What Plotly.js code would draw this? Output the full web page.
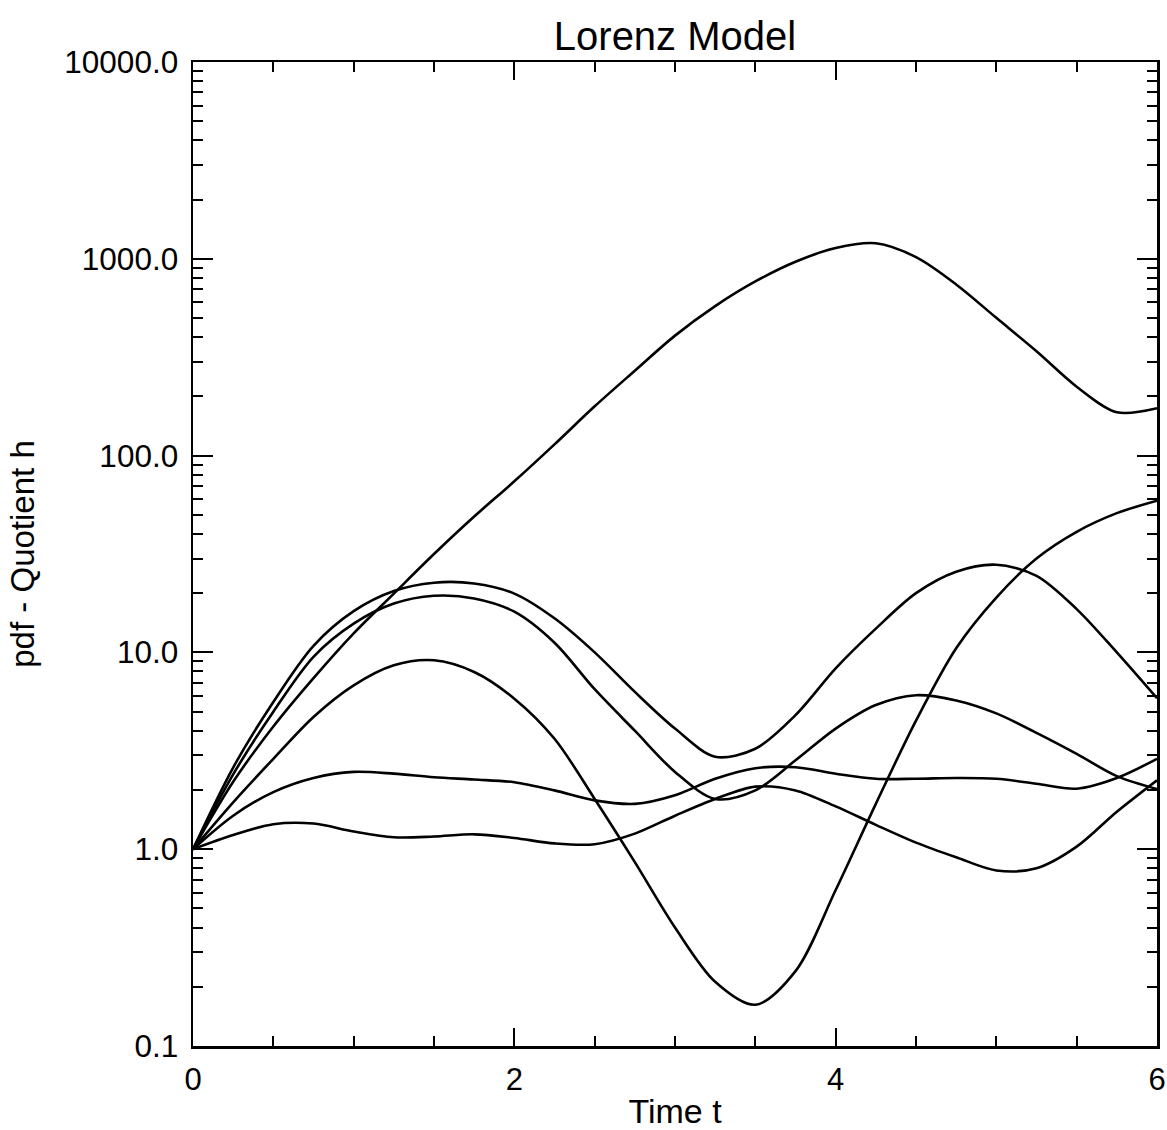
<!DOCTYPE html>
<html>
<head>
<meta charset="utf-8">
<script src="https://cdn.plot.ly/plotly-3.0.1.min.js"></script>
<style>html,body{margin:0;padding:0;background:#fff;}#chart{width:1167px;height:1130px;}</style>
</head>
<body>
<div id="chart"></div>
<script>
// Time samples
var timeT = [0,0.25,0.5,0.75,1,1.25,1.5,1.75,2,2.25,2.5,2.75,3,3.25,3.5,3.75,4,4.25,4.5,4.75,5,5.25,5.5,5.75,6];

// pdf quotient curves
var curveA = [1,2.2,4.2,7.4,12.5,19.9,31.6,49,74,114,178,270,407,575,767,966,1135,1200,1020,741,501,339,224,166,174];
var curveB = [1,2.6,5.6,10.8,16.2,20.5,22.6,22.4,19.9,14.9,10,6.3,4.1,2.95,3.24,4.8,8.3,13.2,20,25.7,27.9,24.5,16.6,10,5.85];
var curveC = [1,2.4,5.0,9.5,14.0,17.7,19.4,18.8,16.1,11.2,6.5,4.0,2.47,1.80,1.99,2.83,4.1,5.4,6.06,5.7,4.9,3.9,3.05,2.35,2.02];
var curveD = [1,1.73,2.88,4.7,6.8,8.6,9.12,7.95,5.82,3.64,1.8,0.86,0.40,0.212,0.162,0.24,0.62,1.7,4.5,10.5,19,30,41,51,59];
var curveE = [1,1.48,1.95,2.3,2.47,2.42,2.32,2.26,2.19,1.99,1.77,1.70,1.88,2.28,2.58,2.61,2.42,2.28,2.28,2.3,2.28,2.15,2.03,2.3,2.88];
var curveF = [1,1.18,1.34,1.35,1.23,1.15,1.16,1.19,1.14,1.07,1.06,1.2,1.48,1.80,2.08,1.99,1.65,1.33,1.08,0.91,0.78,0.80,1.03,1.55,2.24];

// Tick labels
var xTickVals = [0,2,4,6];
var xTickText = ['0','2','4','6'];
var yTickVals = [0.1,1,10,100,1000,10000];
var yTickText = ['0.1','1.0','10.0','100.0','1000.0','10000.0'];

var xMinor = [];
for (var i = 1; i < 12; i++) { if (i % 4 !== 0) xMinor.push(i * 0.5); }
var yMinor = [];
[0.1,1,10,100,1000].forEach(function(d){ for (var k = 2; k <= 9; k++) yMinor.push(d * k); });

var series = [curveA, curveB, curveC, curveD, curveE, curveF];
var traces = series.map(function(s){
  return {x: timeT, y: s, type: 'scatter', mode: 'lines',
          line: {color: '#000', width: 2.6, shape: 'spline', smoothing: 0.9},
          hoverinfo: 'skip', showlegend: false};
});

var fontFam = '"Liberation Sans", Arial, Helvetica, sans-serif';
var layout = {
  width: 1167, height: 1130,
  paper_bgcolor: '#fff', plot_bgcolor: '#fff',
  margin: {l: 193, r: 10, t: 62, b: 84, pad: 0},
  font: {family: fontFam, color: '#000'},
  title: {text: 'Lorenz Model', font: {family: fontFam, size: 40, color: '#000'},
          x: 0.5, xref: 'paper', xanchor: 'center', y: 0.968, yref: 'container', yanchor: 'middle'},
  xaxis: {
    range: [0, 6], showgrid: false, zeroline: false,
    showline: true, linecolor: '#000', linewidth: 2.5, mirror: 'ticks',
    tickmode: 'array', tickvals: xTickVals, ticktext: xTickText,
    ticks: 'inside', ticklen: 18, tickwidth: 2, tickcolor: '#000',
    ticklabelstandoff: 4,
    tickfont: {family: fontFam, size: 31, color: '#000'},
    minor: {tickmode: 'array', tickvals: xMinor, ticks: 'inside', ticklen: 10, tickwidth: 2, tickcolor: '#000', showgrid: false},
    title: {text: 'Time t', font: {family: fontFam, size: 34, color: '#000'}, standoff: 10}
  },
  yaxis: {
    type: 'log', range: [-1, 4], showgrid: false, zeroline: false,
    showline: true, linecolor: '#000', linewidth: 2.5, mirror: 'ticks',
    tickmode: 'array', tickvals: yTickVals, ticktext: yTickText,
    ticks: 'inside', ticklen: 20, tickwidth: 2, tickcolor: '#000',
    ticklabelstandoff: 6,
    tickfont: {family: fontFam, size: 31.5, color: '#000'},
    minor: {tickmode: 'array', tickvals: yMinor, ticks: 'inside', ticklen: 10, tickwidth: 2, tickcolor: '#000', showgrid: false},
    title: {text: 'pdf - Quotient h', font: {family: fontFam, size: 33, color: '#000'}, standoff: 20}
  }
};

Plotly.newPlot('chart', traces, layout, {staticPlot: true, displayModeBar: false});
</script>
</body>
</html>
